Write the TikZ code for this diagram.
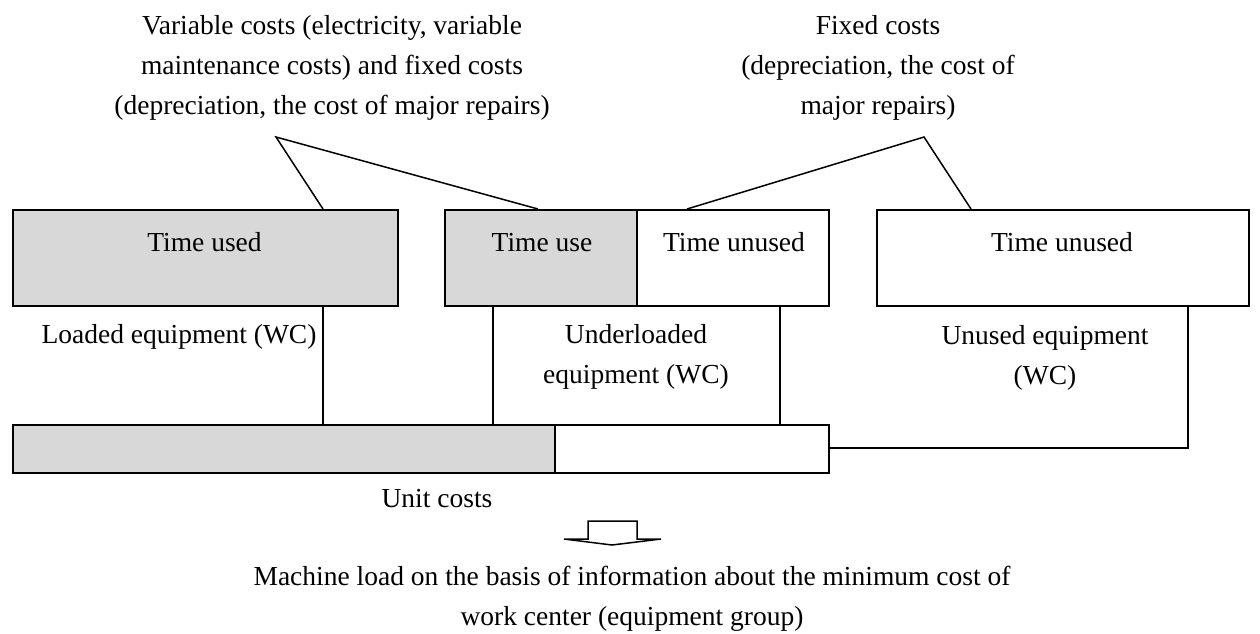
\documentclass[tikz,border=0pt]{standalone}
\usepackage{fontspec}
\setmainfont{Liberation Serif}
\definecolor{shade}{RGB}{216,216,216}
\begin{document}
\begin{tikzpicture}[x=1pt,y=-1pt,line width=1.8pt,
  lbl/.style={font=\fontsize{27.5}{40}\selectfont,anchor=base,inner sep=0pt},
  cell/.style={draw,line width=1.8pt,inner sep=0pt,anchor=north west,minimum height=96pt},
  gcell/.style={cell,fill=shade},
  barcell/.style={draw,line width=1.8pt,inner sep=0pt,anchor=north west,minimum height=48pt},
  conn/.style={draw,line width=1.5pt}]
\useasboundingbox (0,0) rectangle (1260,633);
% boxes
\node[gcell,minimum width=385pt] (b1) at (12,209) {};
\node[gcell,minimum width=192pt] (b2a) at (444,209) {};
\node[cell,minimum width=192pt] (b2b) at (636,209) {};
\node[cell,minimum width=372pt] (b3) at (876,209) {};
\node[barcell,fill=shade,minimum width=542pt] (bara) at (12,424) {};
\node[barcell,minimum width=274pt] (barb) at (554,424) {};
% box texts
\node[lbl] (t1) at (204.5,251) {Time used};
\node[lbl] (t2) at (542,251) {Time use};
\node[lbl] (t3) at (734,251) {Time unused};
\node[lbl] (t4) at (1062,251) {Time unused};
% top labels
\node[lbl] (vl1) at (332,34) {Variable costs (electricity, variable};
\node[lbl] (vl2) at (332,74) {maintenance costs) and fixed costs};
\node[lbl] (vl3) at (332,114) {(depreciation, the cost of major repairs)};
\node[lbl] (fl1) at (878,34) {Fixed costs};
\node[lbl] (fl2) at (878,74) {(depreciation, the cost of};
\node[lbl] (fl3) at (878,114) {major repairs)};
% middle labels
\node[lbl] (le) at (179,343) {Loaded equipment (WC)};
\node[lbl] (ue1) at (636,343) {Underloaded};
\node[lbl] (ue2) at (636,383) {equipment (WC)};
\node[lbl] (ne1) at (1045,344) {Unused equipment};
\node[lbl] (ne2) at (1045,384) {(WC)};
\node[lbl] (uc) at (437,507) {Unit costs};
\node[lbl] (ml1) at (632,585) {Machine load on the basis of information about the minimum cost of};
\node[lbl] (ml2) at (632,625) {work center (equipment group)};
% connector points
\coordinate (apL) at (276,137);
\coordinate (apR) at (924,137);
\coordinate (pL1) at (323,209);
\coordinate (pL2) at (538,209);
\coordinate (pR1) at (687,209);
\coordinate (pR2) at (971,209);
\coordinate (v1t) at (323,305);
\coordinate (v1b) at (323,424);
\coordinate (v2t) at (493,305);
\coordinate (v2b) at (493,424);
\coordinate (v3t) at (780,305);
\coordinate (v3b) at (780,424);
\coordinate (h1) at (828,448);
\coordinate (h2) at (1188,448);
\coordinate (h3) at (1188,305);
\draw[conn] (pL1) -- (apL) -- (pL2);
\draw[conn] (pR1) -- (apR) -- (pR2);
\draw[conn] (v1t) -- (v1b);
\draw[conn] (v2t) -- (v2b);
\draw[conn] (v3t) -- (v3b);
\draw[conn] (h1) -- (h2) -- (h3);
% block arrow
\draw[line width=1.5pt,fill=white,line join=miter]
  (564,539) -- (588,539) -- (588,521) -- (637,521) -- (637,539) -- (661,539) -- (612,545) -- cycle;
\end{tikzpicture}
\end{document}
